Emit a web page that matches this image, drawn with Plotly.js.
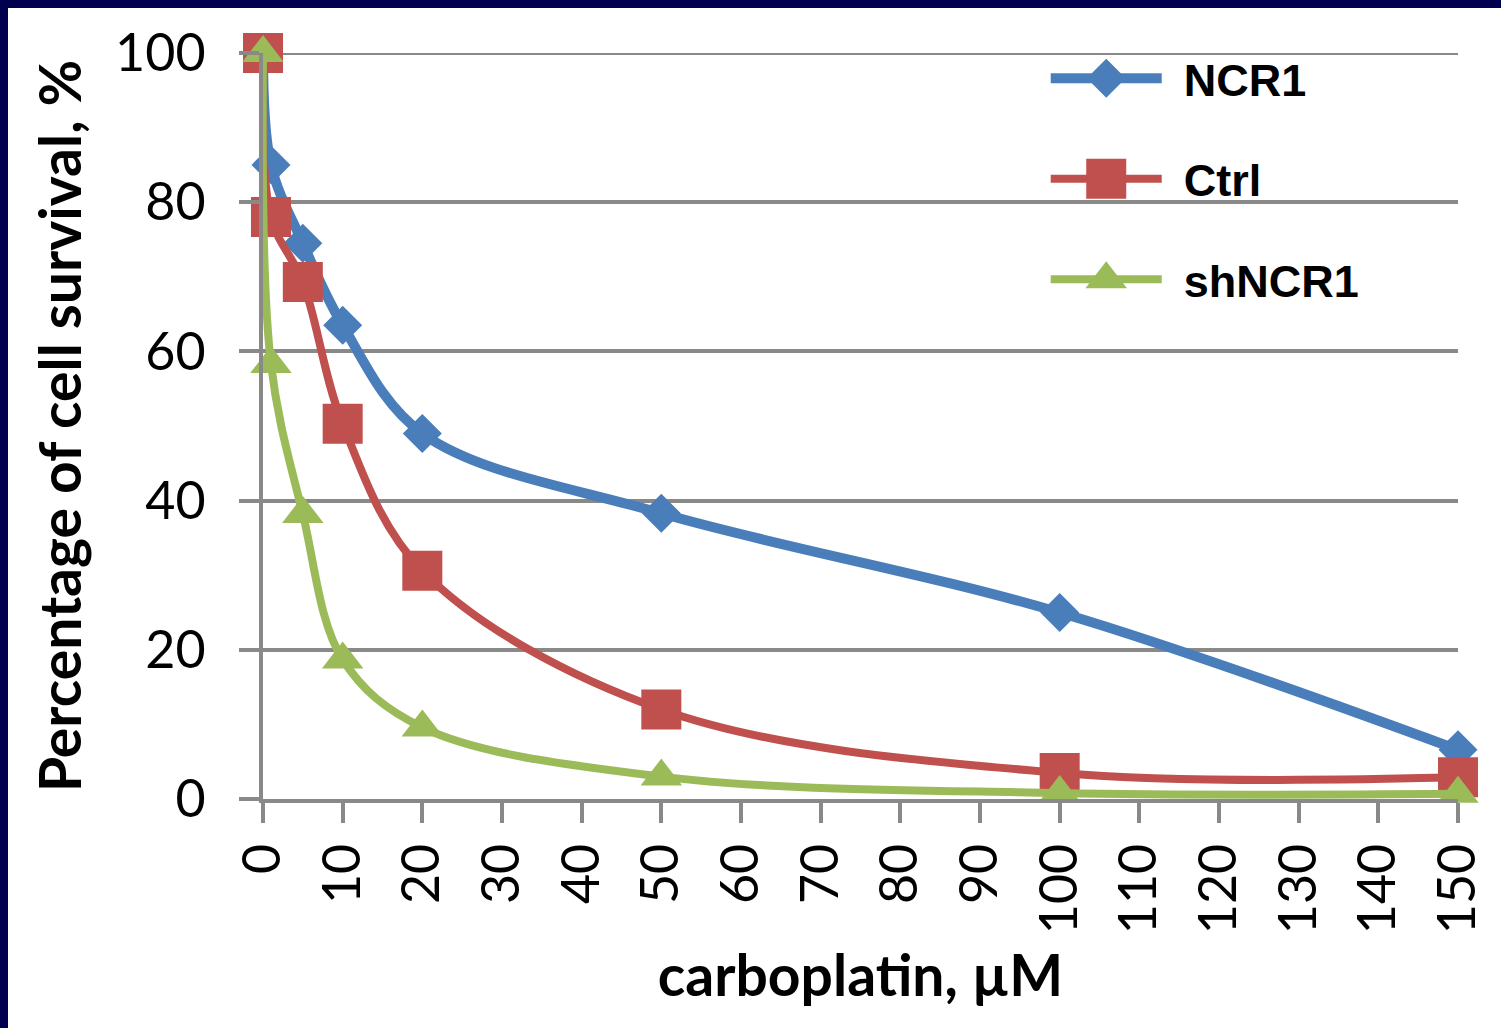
<!DOCTYPE html>
<html>
<head>
<meta charset="utf-8">
<script src="https://cdn.plot.ly/plotly-3.0.1.min.js"></script>
<style>
  html, body { margin: 0; padding: 0; background: #ffffff; }
  #wrap { position: relative; width: 1501px; height: 1028px; overflow: hidden; }
  #plot { position: absolute; left: 0; top: 0; width: 1501px; height: 1028px; }
  .band-top { position: absolute; left: 0; top: 0; width: 1501px; height: 8px; background: #00004e; }
  .band-left { position: absolute; left: 0; top: 0; width: 8px; height: 1028px; background: #00004e; }
</style>
</head>
<body>
<div id="wrap">
  <div id="plot"></div>
  <div class="band-top"></div>
  <div class="band-left"></div>
</div>
<script>
// ---- data ----
const carboplatin = [0, 1, 5, 10, 20, 50, 100, 150];
const ncr1   = [100, 85, 74.5, 63.5, 49, 38.3, 25, 6.6];
const ctrl   = [100, 78, 69.3, 50.3, 30.6, 12, 3.5, 2.9];
const shncr1 = [100, 58.3, 38.2, 18.7, 9.6, 3, 0.8, 0.7];
const seriesNames = ["NCR1", "Ctrl", "shNCR1"];
const xTicks = [0, 10, 20, 30, 40, 50, 60, 70, 80, 90, 100, 110, 120, 130, 140, 150];
const yTicks = [0, 20, 40, 60, 80, 100];

const colors = ["#4a7ebb", "#c0504d", "#9bbb59"];
const symbols = ["diamond", "square", "triangle-up"];
const sizes = [30, 40, 36];
const series = [ncr1, ctrl, shncr1];

const traces = series.map((ys, i) => ({
  type: "scatter",
  mode: "lines+markers",
  name: seriesNames[i],
  legendgroup: "g" + i,
  x: carboplatin,
  y: ys,
  cliponaxis: false,
  line: { color: colors[i], width: i === 0 ? 10 : 8, shape: "spline", smoothing: 1 },
  marker: { symbol: symbols[i], size: sizes[i], color: colors[i], line: { width: 0 } }
}));

const gridCol = "#898989";
const layout = {
  width: 1501,
  height: 1028,
  paper_bgcolor: "#ffffff",
  plot_bgcolor: "#ffffff",
  margin: { l: 263, r: 43, t: 53, b: 229 },
  showlegend: true,
  legend: {
    x: 0.655, xanchor: "left",
    y: 1.014, yanchor: "top",
    bgcolor: "rgba(0,0,0,0)",
    font: { family: "Liberation Sans, Arial, sans-serif", size: 45, color: "#000000", weight: "bold" },
    traceorder: "grouped",
    tracegroupgap: 39,
    itemwidth: 128
  },
  shapes: [
    { type: "line", xref: "paper", x0: 0, x1: 1, yref: "y", y0: 100, y1: 100,
      line: { color: gridCol, width: 4 }, layer: "below" }
  ],
  xaxis: {
    range: [0, 150],
    tickvals: xTicks,
    ticktext: xTicks.map(String),
    tickangle: -90,
    ticks: "outside",
    ticklen: 20,
    tickwidth: 4,
    tickcolor: gridCol,
    showline: true,
    linecolor: gridCol,
    linewidth: 4,
    showgrid: false,
    zeroline: false,
    tickfont: { family: "Lato, sans-serif", size: 52, color: "#000000" },
    title: {
      text: "carboplatin, µM",
      font: { family: "Lato, sans-serif", size: 57, color: "#000000", weight: "bold" },
      standoff: 24
    }
  },
  yaxis: {
    range: [0, 100],
    tickvals: yTicks,
    ticktext: yTicks.map(String),
    ticks: "outside",
    ticklen: 20,
    tickwidth: 4,
    tickcolor: gridCol,
    showline: true,
    linecolor: gridCol,
    linewidth: 4,
    showgrid: true,
    gridcolor: gridCol,
    gridwidth: 4,
    zeroline: false,
    tickfont: { family: "Lato, sans-serif", size: 52, color: "#000000" },
    ticklabelstandoff: 23,
    title: {
      text: "Percentage of cell survival, %",
      font: { family: "Lato, sans-serif", size: 57, color: "#000000", weight: "bold" },
      standoff: 16
    }
  }
};

const gd = document.getElementById("plot");
Plotly.newPlot(gd, traces, layout, { staticPlot: true, displayModeBar: false }).then(() => {
  // enlarge legend symbols to match the chart's marker size and longer legend lines
  const mainTraces = gd.querySelectorAll(".scatterlayer .trace");
  const legendItems = gd.querySelectorAll(".legend .traces");
  legendItems.forEach((item, i) => {
    const line = item.querySelector(".legendlines path");
    if (line) line.setAttribute("d", "M5,0h111");
    const pt = item.querySelector(".legendpoints path.scatterpts");
    const src = mainTraces[i] ? mainTraces[i].querySelector(".points path") : null;
    if (pt && src) {
      pt.setAttribute("d", src.getAttribute("d"));
      pt.setAttribute("transform", "translate(60.5,0)");
    }
  });
});
</script>
</body>
</html>
